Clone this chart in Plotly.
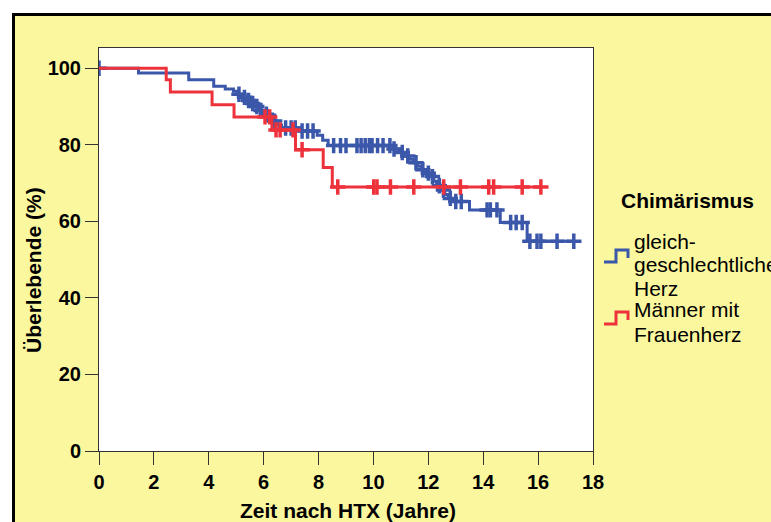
import numpy as np
import plotly.graph_objects as go

# Kaplan-Meier survival after heart transplantation (HTX), by donor/recipient sex
# gleichgeschlechtliches Herz: step times (years) and survival (%) after each step
same_step_t = [1.44, 3.27, 4.18, 4.6, 4.9, 5.05, 5.25, 5.4, 5.55, 5.7, 5.85, 6.0, 6.15,
               6.3, 6.5, 6.65, 7.3, 7.95, 8.15, 8.35, 10.75, 10.95, 11.1, 11.3, 11.45,
               11.6, 11.75, 11.9, 12.05, 12.2, 12.3, 12.45, 12.6, 12.72, 12.85, 13.5,
               14.62, 15.6]
same_step_s = [98.8, 97.0, 95.3, 94.6, 94.0, 93.2, 92.4, 91.6, 90.8, 90.0, 89.0, 88.0, 87.2,
               86.2, 85.2, 84.4, 83.6, 82.5, 81.2, 79.8, 78.9, 78.0, 77.1, 76.2, 75.3,
               74.4, 73.5, 72.6, 71.7, 70.5, 69.3, 68.2, 67.0, 66.0, 65.2, 63.0,
               59.7, 54.8]
same_censor_t = [0.0, 5.1, 5.3, 5.45, 5.6, 5.75, 5.9, 6.1, 6.4, 6.8, 7.0, 7.15, 7.4, 7.6,
                 7.8, 8.55, 8.8, 9.0, 9.4, 9.55, 9.7, 9.85, 9.95, 10.15, 10.35, 10.6,
                 10.75, 11.05, 11.25, 11.55, 11.8, 12.0, 12.15, 12.4, 12.55, 12.8, 13.0,
                 13.2, 14.14, 14.26, 14.5, 15.0, 15.2, 15.42, 15.7, 15.96, 16.1, 16.69,
                 17.3]

# Männer mit Frauenherz
mixed_step_t = [2.45, 2.6, 4.12, 4.92, 6.3, 7.16, 8.17, 8.5]
mixed_step_s = [97.0, 93.8, 90.5, 87.3, 83.9, 78.7, 74.1, 69.0]
mixed_censor_t = [6.05, 6.22, 6.45, 6.6, 7.07, 7.4, 8.7, 10.01, 10.13, 10.62, 11.47,
                  12.56, 13.17, 14.2, 14.38, 15.42, 16.1]

x_ticks = [0, 2, 4, 6, 8, 10, 12, 14, 16, 18]
y_ticks = [0, 20, 40, 60, 80, 100]

x_title = "Zeit nach HTX (Jahre)"
y_title = "Überlebende (%)"
legend_title = "Chimärismus"
legend_same = ["gleich-", "geschlechtliche", "Herz"]
legend_mixed = ["Männer mit", "Frauenherz"]

BLUE = "#3B57AA"
RED = "#EE323C"
YELLOW = "#FAF79F"
FONT = "Liberation Sans"


def km_curve(step_t, step_s, censor_t):
    """Return step-line points and censor-mark points of a survival curve."""
    end = max(censor_t)
    xs = [0.0] + list(step_t) + [end]
    ys = [100.0] + list(step_s) + [step_s[-1]]
    st = np.array(step_t)
    ss = np.array([100.0] + list(step_s))
    idx = np.searchsorted(st, np.array(censor_t), side="right")
    return xs, ys, list(censor_t), list(ss[idx])


fig = go.Figure()

for (st, ss, ct), color, name in [
    ((same_step_t, same_step_s, same_censor_t), BLUE, "gleichgeschlechtliche Herz"),
    ((mixed_step_t, mixed_step_s, mixed_censor_t), RED, "Männer mit Frauenherz"),
]:
    lx, ly, cx, cy = km_curve(st, ss, ct)
    fig.add_trace(go.Scatter(x=lx, y=ly, mode="lines", line=dict(color=color, width=3, shape="hv"),
                             name=name, showlegend=False, hoverinfo="skip"))
    fig.add_trace(go.Scatter(x=cx, y=cy, mode="markers", showlegend=False, hoverinfo="skip",
                             marker=dict(symbol="cross-thin", size=11, color=color,
                                         line=dict(color=color, width=3.5))))

# figure geometry in pixels
W, H = 771, 522
ML, MR, MT, MB = 99, 178, 48, 71
PW, PH = W - ML - MR, H - MT - MB


def px(x):
    return (x - ML) / PW


def py(y):
    return (H - MB - y) / PH


shapes = [
    # yellow panel with black frame, running past the right and bottom edges
    dict(type="rect", xref="paper", yref="paper", x0=px(13.5), x1=px(W + 40),
         y0=py(H + 40), y1=py(14.5), fillcolor=YELLOW, line=dict(color="black", width=3),
         layer="below"),
    # white plotting area
    dict(type="rect", xref="x domain", yref="y domain", x0=0, x1=1, y0=0, y1=1,
         fillcolor="white", line=dict(width=0), layer="below"),
]

# legend keys drawn as small step symbols
def step_key(x0, y0, color):
    return dict(type="path", xref="paper", yref="paper",
                path=(f"M {px(x0)},{py(y0)} L {px(x0 + 12)},{py(y0)} L {px(x0 + 12)},{py(y0 - 12)} "
                      f"L {px(x0 + 24)},{py(y0 - 12)} L {px(x0 + 24)},{py(y0 - 4)}"),
                line=dict(color=color, width=3))

shapes.append(step_key(604, 262, BLUE))
shapes.append(step_key(604, 324, RED))

annotations = [
    dict(text=f"<b>{x_title}</b>", xref="paper", yref="paper", x=px(348), y=py(510),
         showarrow=False, font=dict(family=FONT, size=21, color="black"),
         xanchor="center", yanchor="middle"),
    dict(text=f"<b>{y_title}</b>", xref="paper", yref="paper", x=px(33), y=py(270),
         showarrow=False, textangle=-90, font=dict(family=FONT, size=21, color="black"),
         xanchor="center", yanchor="middle"),
    dict(text=f"<b>{legend_title}</b>", xref="paper", yref="paper", x=px(619), y=py(200),
         showarrow=False, font=dict(family=FONT, size=21, color="black"),
         xanchor="left", yanchor="middle"),
]
for i, line in enumerate(legend_same):
    annotations.append(dict(text=line, xref="paper", yref="paper", x=px(632), y=py(241 + 23.5 * i),
                            showarrow=False, font=dict(family=FONT, size=21, color="black"),
                            xanchor="left", yanchor="middle"))
for i, line in enumerate(legend_mixed):
    annotations.append(dict(text=line, xref="paper", yref="paper", x=px(632), y=py(310 + 24.5 * i),
                            showarrow=False, font=dict(family=FONT, size=21, color="black"),
                            xanchor="left", yanchor="middle"))

axis_common = dict(showline=True, linecolor="#333333", linewidth=1, mirror=True,
                   ticks="outside", ticklen=13, tickwidth=1, tickcolor="#333333",
                   showgrid=False, zeroline=False,
                   tickfont=dict(family=FONT, size=20, color="black", weight="bold"))

fig.update_layout(
    width=W, height=H,
    margin=dict(l=ML, r=MR, t=MT, b=MB, pad=0),
    paper_bgcolor="white",
    plot_bgcolor="rgba(0,0,0,0)",
    showlegend=False,
    shapes=shapes,
    annotations=annotations,
    xaxis=dict(range=[0, 18], tickvals=x_ticks, **axis_common),
    yaxis=dict(range=[0, 105.3], tickvals=y_ticks, **axis_common),
)

fig.write_html("out.html")
